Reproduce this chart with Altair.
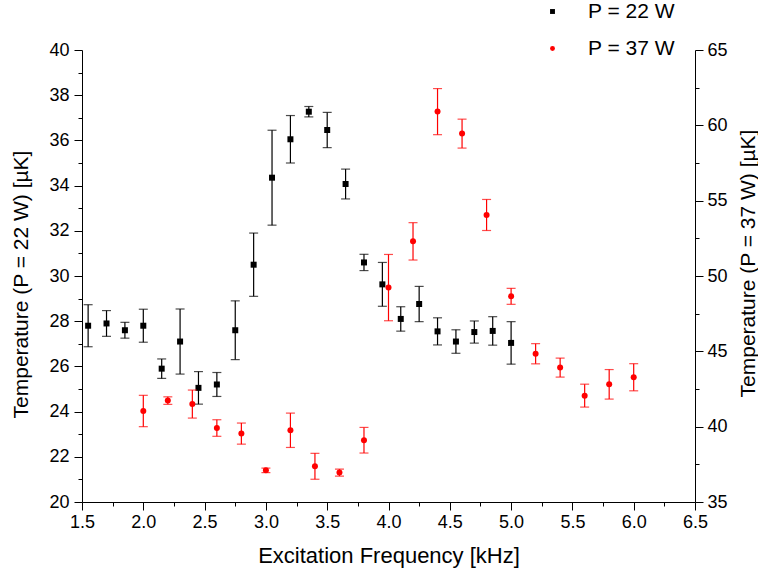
import altair as alt
import pandas as pd

# ---- data ----
freq22 = [1.55, 1.7, 1.85, 2.0, 2.15, 2.3, 2.45, 2.6, 2.75, 2.9, 3.05, 3.2,
          3.35, 3.5, 3.65, 3.8, 3.95, 4.1, 4.25, 4.4, 4.55, 4.7, 4.85, 5.0]
temp22 = [27.8, 27.9, 27.6, 27.8, 25.9, 27.1, 25.05, 25.2, 27.6, 30.5, 34.35, 36.05,
          37.27, 36.46, 34.07, 30.6, 29.63, 28.1, 28.76, 27.55, 27.1, 27.52, 27.57, 27.04]
err22 = [0.93, 0.57, 0.35, 0.73, 0.43, 1.44, 0.72, 0.53, 1.3, 1.4, 2.1, 1.05,
         0.23, 0.78, 0.66, 0.36, 0.97, 0.54, 0.78, 0.6, 0.52, 0.49, 0.63, 0.94]

freq37 = [2.0, 2.2, 2.4, 2.6, 2.8, 3.0, 3.2, 3.4, 3.6, 3.8, 4.0, 4.2, 4.4, 4.6,
          4.8, 5.0, 5.2, 5.4, 5.6, 5.8, 6.0]
temp37 = [41.04, 41.73, 41.5, 39.91, 39.54, 37.1, 39.76, 37.37, 36.95, 39.1, 49.23,
          52.3, 60.91, 59.45, 54.05, 48.65, 44.84, 43.92, 42.06, 42.81, 43.28]
err37 = [1.04, 0.25, 0.93, 0.55, 0.7, 0.15, 1.14, 0.86, 0.23, 0.85, 2.2,
         1.24, 1.53, 0.96, 1.03, 0.53, 0.67, 0.63, 0.76, 0.98, 0.9]

series = ["P = 22 W", "P = 37 W"]
colors = ["#000000", "#ff0000"]
shapes = ["square", "circle"]

x_ticks = [1.5 + 0.25 * i for i in range(21)]
yl_ticks = [20 + i for i in range(21)]
yr_ticks = [35 + 2.5 * i for i in range(13)]

FONT = "Liberation Sans"

df22 = pd.DataFrame({"f": freq22, "t": temp22, "e": err22})
df22["lo"] = df22["t"] - df22["e"]
df22["hi"] = df22["t"] + df22["e"]
df22["s"] = series[0]
df37 = pd.DataFrame({"f": freq37, "t": temp37, "e": err37})
df37["lo"] = df37["t"] - df37["e"]
df37["hi"] = df37["t"] + df37["e"]
df37["s"] = series[1]

common_axis = dict(
    labelFont=FONT, labelFontSize=18, labelColor="black",
    titleFont=FONT, titleFontWeight="normal", titleColor="black",
    domainColor="black", domainWidth=1, tickColor="black", tickWidth=1,
    grid=False, labelFlush=False, labelOverlap=False,
)

x_axis = alt.Axis(
    values=x_ticks,
    title="Excitation Frequency [kHz]", titleFontSize=22,
    labelExpr="abs(datum.value*2 - round(datum.value*2)) < 1e-6 ? format(datum.value, '.1f') : ''",
    tickSize={"condition": {"test": "abs(datum.value*2 - round(datum.value*2)) < 1e-6", "value": 8}, "value": 4},
    labelPadding=3,
    titleBaseline="alphabetic", titleY=60,
    **common_axis,
)
yl_axis = alt.Axis(
    values=yl_ticks, orient="left",
    title="Temperature (P = 22 W) [\u00b5K]", titleFontSize=21,
    labelExpr="datum.value % 2 == 0 ? format(datum.value, 'd') : ''",
    tickSize={"condition": {"test": "datum.value % 2 == 0", "value": 8}, "value": 4},
    labelPadding=5,
    titleAngle=270, titleBaseline="middle", titleX=-61, titleY=234,
    **common_axis,
)
yr_axis = alt.Axis(
    values=yr_ticks, orient="right",
    title="Temperature (P = 37 W) [\u00b5K]", titleFontSize=21,
    labelExpr="datum.value % 5 == 0 ? format(datum.value, 'd') : ''",
    tickSize={"condition": {"test": "datum.value % 5 == 0", "value": 8}, "value": 4},
    labelPadding=4,
    titleAngle=270, titleBaseline="middle", titleX=53, titleY=213,
    **common_axis,
)

xs = alt.Scale(domain=[1.5, 6.5], nice=False, zero=False)
yls = alt.Scale(domain=[20, 40], nice=False, zero=False)
yrs = alt.Scale(domain=[35, 65], nice=False, zero=False)

legend = alt.Legend(title=None, orient="none", legendX=460, legendY=-49,
                    labelFont=FONT, labelFontSize=21, labelColor="black",
                    labelOffset=25, rowPadding=15, padding=0,
                    symbolSize=24, symbolStrokeWidth=0)
color_enc = alt.Color("s:N", scale=alt.Scale(domain=series, range=colors), legend=legend)
shape_enc = alt.Shape("s:N", scale=alt.Scale(domain=series, range=shapes), legend=legend)


def group(df, ys, yaxis, col):
    base = alt.Chart(df)
    X = alt.X("f:Q", scale=xs, axis=x_axis)
    rule = base.mark_rule(color=col, strokeWidth=1.2).encode(
        x=X, y=alt.Y("lo:Q", scale=ys, axis=yaxis), y2="hi:Q")
    cap_lo = base.mark_tick(color=col, orient="horizontal", size=9, thickness=1.2).encode(
        x=X, y=alt.Y("lo:Q", scale=ys, axis=yaxis))
    cap_hi = base.mark_tick(color=col, orient="horizontal", size=9, thickness=1.2).encode(
        x=X, y=alt.Y("hi:Q", scale=ys, axis=yaxis))
    pts = base.mark_point(filled=True, size=36, opacity=1, strokeWidth=0).encode(
        x=X, y=alt.Y("t:Q", scale=ys, axis=yaxis), color=color_enc, shape=shape_enc)
    return alt.layer(rule, cap_lo, cap_hi, pts)


left = group(df22, yls, yl_axis, "black")
right = group(df37, yrs, yr_axis, "red")

chart = alt.layer(left, right).resolve_scale(y="independent").properties(
    width=613, height=452,
    autosize=alt.AutoSizeParams(type="none"),
    padding={"left": 82, "top": 50, "right": 63, "bottom": 73},
    background="white",
).configure_view(strokeWidth=0)

chart.save("out.html", embed_options={"renderer": "svg", "actions": False})
